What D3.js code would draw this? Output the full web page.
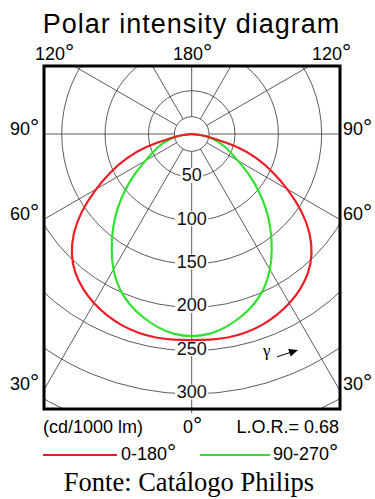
<!DOCTYPE html>
<html>
<head>
<meta charset="utf-8">
<script src="https://cdn.jsdelivr.net/npm/d3@7"></script>
<style>
  body { margin: 0; background: #fff; }
  svg { display: block; font-family: "Liberation Sans", Arial, sans-serif; }
</style>
</head>
<body>
<svg id="chart" width="375" height="499"></svg>
<script>
// gamma (deg from nadir) and luminous intensity in cd/1000 lm
var gammaAngles = [0, 5, 10, 15, 20, 25, 30, 35, 40, 45, 50, 55, 60, 65, 70, 75, 80, 85, 90];
var intensity0_180 = [238, 238.5, 239, 238, 235.5, 231.5, 226, 219, 210, 197, 179, 156, 129, 104, 80, 54, 23, 9, 0];
var intensity90_270 = [234, 232.5, 227, 219, 210, 198, 182, 162, 142, 122, 101, 81, 62, 49, 40, 30, 21, 10, 0];

var ringValues = [50, 100, 150, 200, 250, 300, 350];
var ringLabels = [50, 100, 150, 200, 250, 300];
var spokeAngles = [0, 30, 60, 90, 120, 150, 180];
var sideLabels = [90, 60, 30];
var topLabels = [120, 180, 120];
var legendNames = ["0-180", "90-270"];
var legendColors = ["#ee1c24", "#2fe22f"];

var svg = d3.select("#chart");
var box = { left: 44, top: 66, right: 340, bottom: 409 };
var cx = 191.7, cy = 134;
var rScale = d3.scaleLinear().domain([0, 350]).range([0, 303.3]);
var innerR = rScale(20);
var rad = Math.PI / 180;

// text with a raised, larger degree sign like the catalogue sheet
function degText(sel, label) {
    sel.append("tspan").text(label);
    sel.append("tspan").attr("font-size", 23).text("°");
}

// title
svg.append("text")
    .attr("x", 191.5).attr("y", 33)
    .attr("text-anchor", "middle")
    .attr("font-size", 27)
    .attr("letter-spacing", 1)
    .text("Polar intensity diagram");

svg.append("clipPath").attr("id", "boxClip")
    .append("rect")
    .attr("x", box.left).attr("y", box.top)
    .attr("width", box.right - box.left).attr("height", box.bottom - box.top);

var grid = svg.append("g")
    .attr("clip-path", "url(#boxClip)")
    .append("g")
    .attr("transform", "translate(" + cx + "," + cy + ")");

grid.selectAll(".ring")
    .data(ringValues)
    .enter().append("circle")
    .attr("class", "ring")
    .attr("r", function (d) { return rScale(d); })
    .attr("fill", "none")
    .attr("stroke", "#4a4a4a")
    .attr("stroke-width", 0.9);

grid.append("circle")
    .attr("r", innerR)
    .attr("fill", "none")
    .attr("stroke", "#4a4a4a")
    .attr("stroke-width", 0.9);

// spokes on both sides, from the small circle out to the frame
var spokes = [];
spokeAngles.forEach(function (g) {
    spokes.push({ g: g, side: -1 });
    if (g !== 0 && g !== 180) spokes.push({ g: g, side: 1 });
});
grid.selectAll(".spoke")
    .data(spokes)
    .enter().append("line")
    .attr("class", "spoke")
    .attr("x1", function (d) { return d.side * innerR * Math.sin(d.g * rad); })
    .attr("y1", function (d) { return innerR * Math.cos(d.g * rad); })
    .attr("x2", function (d) { return d.side * 500 * Math.sin(d.g * rad); })
    .attr("y2", function (d) { return 500 * Math.cos(d.g * rad); })
    .attr("stroke", "#4a4a4a")
    .attr("stroke-width", 0.9);

// nadir line continues a little under the frame
svg.append("line")
    .attr("x1", cx).attr("x2", cx)
    .attr("y1", box.bottom).attr("y2", box.bottom + 4)
    .attr("stroke", "#4a4a4a")
    .attr("stroke-width", 0.9);

// ring labels on the nadir line, white behind them
var ringLab = svg.selectAll(".ringLabel")
    .data(ringLabels)
    .enter().append("g")
    .attr("class", "ringLabel")
    .attr("transform", function (d) { return "translate(" + cx + "," + (cy + rScale(d) - 2) + ")"; });
ringLab.append("rect").attr("fill", "#fff");
ringLab.append("text")
    .attr("text-anchor", "middle")
    .attr("dominant-baseline", "central")
    .attr("font-size", 18)
    .attr("fill", "#111")
    .text(function (d) { return d; });
ringLab.each(function () {
    var g = d3.select(this);
    var w = g.select("text").node().getComputedTextLength();
    g.select("rect")
        .attr("x", -w / 2 - 1.5).attr("y", -7.5)
        .attr("width", w + 3).attr("height", 15);
});

// intensity curves (mirrored: C-plane and its opposite half)
var lineGen = d3.lineRadial()
    .angle(function (d) { return d.a; })
    .radius(function (d) { return rScale(d.v); })
    .curve(d3.curveBasis);

function curvePoints(values) {
    var pts = [];
    for (var i = gammaAngles.length - 1; i >= 0; i--) {
        pts.push({ a: Math.PI + gammaAngles[i] * rad, v: values[i] });
    }
    for (var j = 1; j < gammaAngles.length; j++) {
        pts.push({ a: Math.PI - gammaAngles[j] * rad, v: values[j] });
    }
    return pts;
}

var curves = svg.append("g").attr("transform", "translate(" + cx + "," + cy + ")");
[intensity90_270, intensity0_180].forEach(function (vals, i) {
    curves.append("path")
        .datum(curvePoints(vals))
        .attr("d", lineGen)
        .attr("fill", "none")
        .attr("stroke", i === 0 ? legendColors[1] : legendColors[0])
        .attr("stroke-width", 2.2);
});

// frame
svg.append("rect")
    .attr("x", box.left).attr("y", box.top)
    .attr("width", box.right - box.left).attr("height", box.bottom - box.top)
    .attr("fill", "none")
    .attr("stroke", "#000")
    .attr("stroke-width", 3);

// angle labels
var topX = [35, 173, 312];
topLabels.forEach(function (d, i) {
    svg.append("text")
        .attr("x", topX[i]).attr("y", 59.5)
        .attr("font-size", 18)
        .call(degText, d);
});

function sideY(g) {
    return g === 90 ? cy : cy + (cx - box.left) / Math.tan(g * rad);
}
sideLabels.forEach(function (d) {
    svg.append("text")
        .attr("x", 10).attr("y", sideY(d) + 0.5)
        .attr("font-size", 18)
        .call(degText, d);
    svg.append("text")
        .attr("x", 343).attr("y", sideY(d) + 0.5)
        .attr("font-size", 18)
        .call(degText, d);
});

// gamma direction hint
svg.append("text")
    .attr("x", 263).attr("y", 356)
    .attr("font-family", "'Liberation Serif', 'Times New Roman', serif")
    .attr("font-size", 17)
    .text("γ");
svg.append("line")
    .attr("x1", 277).attr("y1", 356.8)
    .attr("x2", 290).attr("y2", 352.6)
    .attr("stroke", "#000").attr("stroke-width", 1);
svg.append("path")
    .attr("d", "M298,350 L290.7,356.6 L288.2,349 Z")
    .attr("fill", "#000");

// footer row
svg.append("text").attr("x", 43).attr("y", 433).attr("font-size", 18).text("(cd/1000 lm)");
svg.append("text").attr("x", 183).attr("y", 433).attr("font-size", 18).call(degText, "0");
svg.append("text").attr("x", 339).attr("y", 433).attr("font-size", 18).attr("text-anchor", "end").text("L.O.R.= 0.68");

// legend
var legendX = [[43, 117, 121], [200, 270, 273]];
legendNames.forEach(function (name, i) {
    svg.append("line")
        .attr("x1", legendX[i][0]).attr("x2", legendX[i][1])
        .attr("y1", 455).attr("y2", 455)
        .attr("stroke", legendColors[i])
        .attr("stroke-width", 2.2);
    svg.append("text")
        .attr("x", legendX[i][2]).attr("y", 459.5)
        .attr("font-size", 18)
        .call(degText, name);
});

svg.append("text")
    .attr("x", 189).attr("y", 491)
    .attr("text-anchor", "middle")
    .attr("font-family", "'Liberation Serif', 'Times New Roman', serif")
    .attr("font-size", 26.5)
    .text("Fonte: Catálogo Philips");
</script>
</body>
</html>
